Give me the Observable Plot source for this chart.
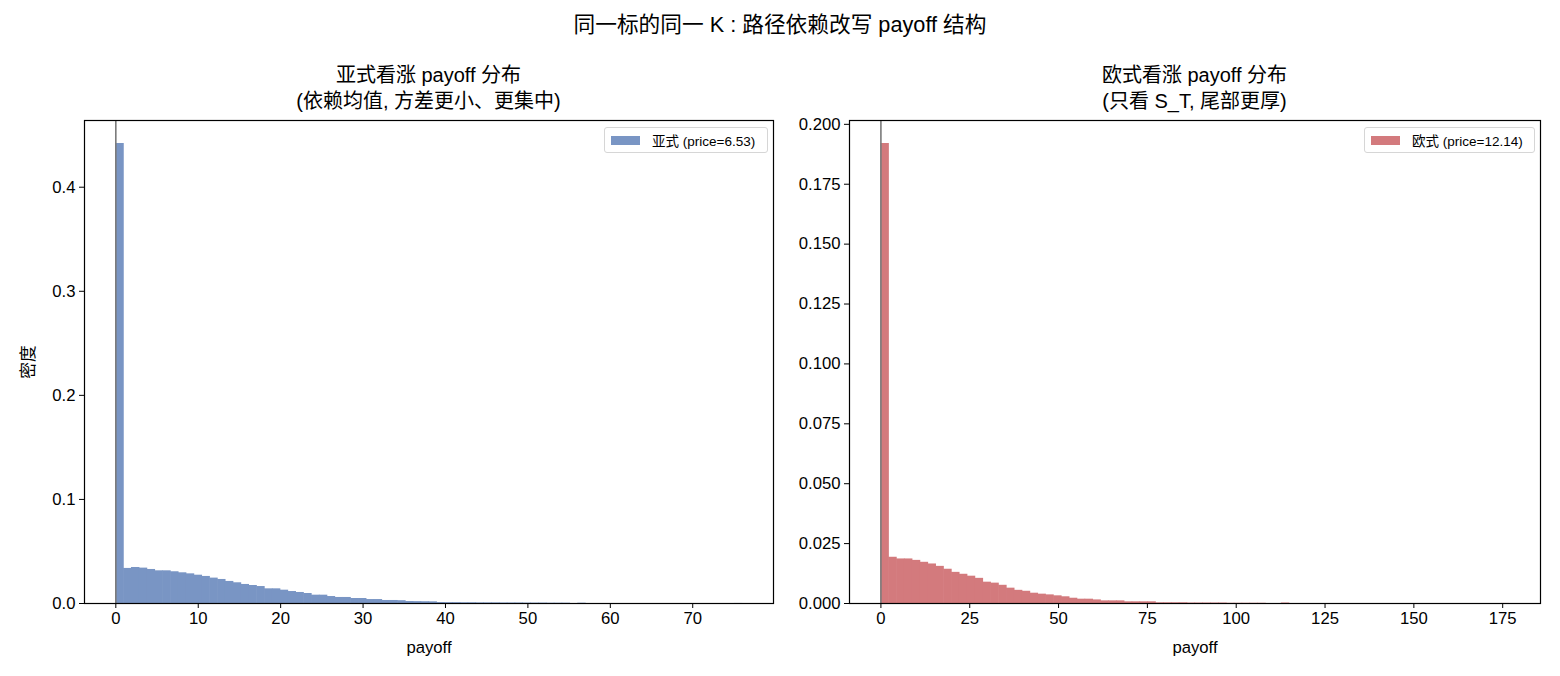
<!DOCTYPE html>
<html>
<head>
<meta charset="utf-8">
<script src="https://cdn.jsdelivr.net/npm/d3@7"></script>
<script src="https://cdn.jsdelivr.net/npm/@observablehq/plot@0.6"></script>
<style>
  body { margin: 0; background: #fff; }
  #fig { position: relative; width: 1560px; height: 676px; overflow: hidden;
         font-family: "Liberation Sans", "Noto Sans CJK SC", sans-serif; color: #000; background: #fff; }
  .t { position: absolute; white-space: nowrap; transform: translate(-50%, -50%); text-align: center; line-height: 1; }
  .legend { position: absolute; border: 1px solid #d6d6d6; border-radius: 3px; background: rgba(255,255,255,0.8);
            font-size: 13.5px; display: flex; align-items: center; box-sizing: border-box; padding: 0 6px; white-space: nowrap; }
  .sw { width: 29px; height: 9px; margin-right: 12px; flex: none; }
  .plot { position: absolute; }
</style>
</head>
<body>
<div id="fig"></div>
<script>
// ---------------- data ----------------
const suptitle = "同一标的同一 K : 路径依赖改写 payoff 结构";
const asianTitle = ["亚式看涨 payoff 分布", "(依赖均值, 方差更小、更集中)"];
const europeanTitle = ["欧式看涨 payoff 分布", "(只看 S_T, 尾部更厚)"];
const asianLegend = "亚式 (price=6.53)";
const europeanLegend = "欧式 (price=12.14)";
const xLabel = "payoff";
const yLabel = "密度";

// histogram range (0 .. max payoff), 80 equal bins
const asianMaxPayoff = 76;
const europeanMaxPayoff = 176.8;

// density per bin (80 bins each)
const asianDensity = [
  0.442, 0.0337, 0.0346, 0.0340, 0.0327, 0.0314, 0.0314, 0.0305, 0.0295, 0.0285,
  0.0272, 0.0260, 0.0244, 0.0231, 0.0212, 0.0199, 0.0183, 0.0173, 0.0163, 0.0141,
  0.0141, 0.0128, 0.0115, 0.0106, 0.0096, 0.0080, 0.0080, 0.0067, 0.0058, 0.0058,
  0.0048, 0.0048, 0.0038, 0.0038, 0.0029, 0.0029, 0.0027, 0.0019, 0.0018, 0.0017,
  0.0016, 0.0009, 0.0008, 0.0008, 0.0007, 0.0007, 0.0006, 0.0006, 0.0006, 0.0005,
  0.0005, 0.0005, 0.0004, 0.0004, 0.0004, 0.0003, 0.0003, 0.0003, 0.0, 0.0003,
  0, 0, 0, 0, 0, 0, 0, 0, 0, 0,
  0, 0, 0, 0, 0, 0, 0, 0, 0, 0.00005
];
const europeanDensity = [
  0.192, 0.0193, 0.0186, 0.0186, 0.0180, 0.0172, 0.0165, 0.0155, 0.0143, 0.0130,
  0.0122, 0.0114, 0.0105, 0.0089, 0.0085, 0.0076, 0.0064, 0.0055, 0.0051, 0.0043,
  0.0039, 0.0036, 0.0032, 0.0028, 0.0022, 0.0018, 0.0018, 0.0015, 0.0011, 0.0011,
  0.0011, 0.0007, 0.0007, 0.0007, 0.0007, 0.0003, 0.0003, 0.0003, 0.0003, 0.0002,
  0.0002, 0.0002, 0.0002, 0.0002, 0.0001, 0.0001, 0.0001, 0.0001, 0.0001, 0.0,
  0.0, 0.0002, 0, 0, 0, 0, 0, 0, 0, 0,
  0, 0, 0, 0, 0, 0, 0, 0, 0, 0,
  0, 0, 0, 0, 0, 0, 0, 0, 0, 0.00003
];

const asianXTicks = [0, 10, 20, 30, 40, 50, 60, 70];
const europeanXTicks = [0, 25, 50, 75, 100, 125, 150, 175];
const asianYTicks = [0, 0.1, 0.2, 0.3, 0.4];
const europeanYTicks = [0, 0.025, 0.05, 0.075, 0.1, 0.125, 0.15, 0.175, 0.2];

const asianColor = "#7995c4";
const europeanColor = "#d37a7d";

// ---------------- layout ----------------
const fig = document.getElementById("fig");
const FONT = '"Liberation Sans", "Noto Sans CJK SC", sans-serif';

function addText(txt, x, y, size) {
  const d = document.createElement("div");
  d.className = "t";
  d.textContent = txt;
  d.style.left = x + "px";
  d.style.top = y + "px";
  d.style.fontSize = size + "px";
  fig.appendChild(d);
}

function addLegend(txt, color, left, top, width) {
  const d = document.createElement("div");
  d.className = "legend";
  d.style.left = left + "px";
  d.style.top = top + "px";
  d.style.width = width + "px";
  d.style.height = "26px";
  const sw = document.createElement("div");
  sw.className = "sw";
  sw.style.background = color;
  const s = document.createElement("span");
  s.textContent = txt;
  d.appendChild(sw);
  d.appendChild(s);
  fig.appendChild(d);
}

const ML = 70, MR = 10, MT = 10, MB = 70;

function panel({density, maxPayoff, color, xticks, yticks, yfmt, showY, frameLeft, frameWidth}) {
  const n = density.length;
  const w = maxPayoff / n;
  const bins = density.map((v, i) => ({x1: i * w, x2: (i + 1) * w, y: v}));
  const frameHeight = 483;
  const plot = Plot.plot({
    width: ML + frameWidth + MR,
    height: MT + frameHeight + MB,
    marginLeft: ML, marginRight: MR, marginTop: MT, marginBottom: MB,
    style: {fontSize: "16.7px", fontFamily: FONT, background: "transparent", overflow: "visible", color: "#000"},
    x: {domain: [-0.05 * maxPayoff, 1.05 * maxPayoff]},
    y: {domain: [0, d3.max(density) * 1.05]},
    marks: [
      Plot.rect(bins, {x1: "x1", x2: "x2", y1: 0, y2: "y", fill: color, insetLeft: 0, insetRight: -0.6}),
      Plot.ruleX([0], {stroke: "#7a7a7a", strokeWidth: 1.6}),
      Plot.frame({stroke: "#000", strokeWidth: 1.2}),
      Plot.axisX({ticks: xticks, tickFormat: d => String(d), tickSize: 5, tickPadding: 4,
                  label: xLabel, labelAnchor: "center", labelArrow: "none", labelOffset: 49}),
      Plot.axisY({ticks: yticks, tickFormat: yfmt, tickSize: 5, tickPadding: 4,
                  label: showY ? yLabel : null, labelAnchor: "center", labelArrow: "none", labelOffset: 62})
    ]
  });
  plot.classList.add("plot");
  plot.style.left = (frameLeft - ML) + "px";
  plot.style.top = (120 - MT) + "px";
  fig.appendChild(plot);
}

panel({density: asianDensity, maxPayoff: asianMaxPayoff, color: asianColor,
       xticks: asianXTicks, yticks: asianYTicks, yfmt: d3.format(".1f"), showY: true,
       frameLeft: 84, frameWidth: 689});
panel({density: europeanDensity, maxPayoff: europeanMaxPayoff, color: europeanColor,
       xticks: europeanXTicks, yticks: europeanYTicks, yfmt: d3.format(".3f"), showY: false,
       frameLeft: 849, frameWidth: 691});

addText(suptitle, 780, 25, 21.7);
addText(asianTitle[0], 428.5, 75, 20);
addText(asianTitle[1], 428.5, 101, 20);
addText(europeanTitle[0], 1194.5, 75, 20);
addText(europeanTitle[1], 1194.5, 101, 20);

addLegend(asianLegend, asianColor, 604, 127, 164);
addLegend(europeanLegend, europeanColor, 1364, 127, 171);
</script>
</body>
</html>
